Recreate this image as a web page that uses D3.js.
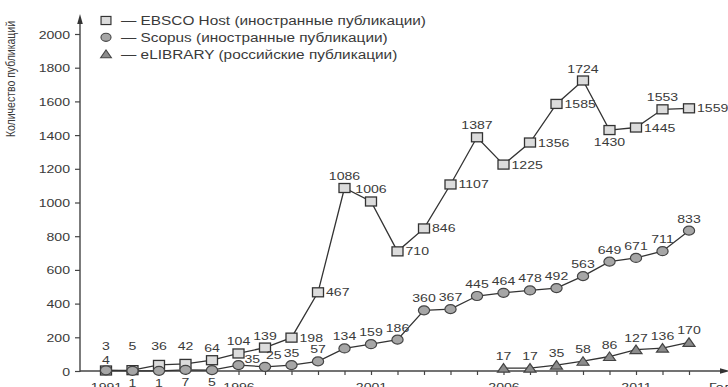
<!DOCTYPE html>
<html>
<head>
<meta charset="utf-8">
<script src="https://cdn.jsdelivr.net/npm/d3@7"></script>
<style>
  html, body { margin: 0; padding: 0; background: #fff; }
  svg { display: block; }
  text { font-family: "Liberation Sans", Arial, sans-serif; fill: #3a3a3a; }
</style>
</head>
<body>
<svg id="chart" width="728" height="387"></svg>
<script>
// Publication counts by year
const years = d3.range(1991, 2014);
const ebsco = [3, 5, 36, 42, 64, 104, 139, 198, 467, 1086, 1006, 710, 846, 1107, 1387, 1225, 1356, 1585, 1724, 1430, 1445, 1553, 1559];
const scopus = [4, 1, 1, 7, 5, 35, 25, 35, 57, 134, 159, 186, 360, 367, 445, 464, 478, 492, 563, 649, 671, 711, 833];
const elibraryYears = [2006, 2007, 2008, 2009, 2010, 2011, 2012, 2013];
const elibrary = [17, 17, 35, 58, 86, 127, 136, 170];
const yTicks = [0, 200, 400, 600, 800, 1000, 1200, 1400, 1600, 1800, 2000];
const xTickLabels = [1991, 1996, 2001, 2006, 2011];
const legendLabels = [
  "— EBSCO Host (иностранные публикации)",
  "— Scopus (иностранные публикации)",
  "— eLIBRARY (российские публикации)"
];
// where each value label sits relative to its marker:
// t = above, T = raised row above, n = just above, r = right, b = below, R = above-right, q = above, shifted right
const ebscoLabelPos = ["T","T","T","T","t","t","t","r","r","t","t","r","r","r","t","r","r","r","t","b","r","t","r"];
const scopusLabelPos = ["n","b","b","b","b","R","q","t","t","t","t","t","t","t","t","t","t","t","t","t","t","t","t"];

const svg = d3.select("#chart");
const SX = 1.28; // horizontal text stretch

const x = d3.scaleLinear().domain([1991, 2013]).range([106, 689]);
const y = d3.scaleLinear().domain([0, 2000]).range([371, 34]);
const x0 = 80;

function stretchedText(g, tx, ty, str, anchor, size) {
  return g.append("text")
    .attr("transform", `translate(${tx},${ty}) scale(${SX},1)`)
    .attr("text-anchor", anchor || "start")
    .style("font-size", (size || 11) + "px")
    .text(str);
}

// Y axis
const yAxis = d3.axisLeft(y).tickValues(yTicks).tickSize(5).tickFormat(d3.format("d"));
const gy = svg.append("g").attr("transform", `translate(${x0},0)`).call(yAxis);
gy.select(".domain").remove();
gy.selectAll(".tick line").attr("stroke", "#444").attr("stroke-width", 1.2);
gy.selectAll(".tick text").remove();
gy.selectAll(".tick").each(function(d) {
  stretchedText(d3.select(this), -10, 4, d, "end");
});
svg.append("line").attr("x1", x0).attr("x2", x0).attr("y1", y(0) + 1).attr("y2", 22)
  .attr("stroke", "#444").attr("stroke-width", 1.4);
svg.append("path").attr("d", `M${x0 - 2.8},${24} L${x0},${14} L${x0 + 2.8},${24} Z`).attr("fill", "#333");

// X axis
const xAxis = d3.axisBottom(x).tickValues(years).tickSize(4).tickFormat("");
const gx = svg.append("g").attr("transform", `translate(0,${y(0)})`).call(xAxis);
gx.select(".domain").remove();
gx.selectAll(".tick line").attr("stroke", "#444").attr("stroke-width", 1.2);
gx.selectAll(".tick").filter(d => xTickLabels.includes(d)).each(function(d) {
  stretchedText(d3.select(this), 0, 20, d, "middle");
});
svg.append("line").attr("x1", x0).attr("x2", 722).attr("y1", y(0)).attr("y2", y(0))
  .attr("stroke", "#444").attr("stroke-width", 1.4);
svg.append("path").attr("d", `M${720},${y(0) - 2.8} L${730},${y(0)} L${720},${y(0) + 2.8} Z`).attr("fill", "#333");
stretchedText(svg, 709, y(0) + 20, "Год", "start");

// Y axis title
svg.append("text")
  .attr("transform", `translate(15,79) rotate(-90) scale(1,${SX})`)
  .attr("text-anchor", "middle")
  .style("font-size", "10.5px")
  .text("Количество публикаций");

// Lines
const line = d3.line().x(d => x(d[0])).y(d => y(d[1]));
function drawLine(xs, vs) {
  svg.append("path").datum(xs.map((yr, i) => [yr, vs[i]]))
    .attr("d", line).attr("fill", "none").attr("stroke", "#333").attr("stroke-width", 1.3);
}

const markers = {
  square: g => g.append("rect").attr("x", -5.5).attr("y", -4.5).attr("width", 11).attr("height", 9)
    .attr("fill", "#dcdcdc").attr("stroke", "#333").attr("stroke-width", 1.3),
  circle: g => g.append("ellipse").attr("rx", 5.6).attr("ry", 4.5)
    .attr("fill", "#a6a6a6").attr("stroke", "#444").attr("stroke-width", 1.2),
  triangle: g => g.append("path").attr("d", "M-6,4 L0,-4.5 L6,4 Z")
    .attr("fill", "#8c8c8c").attr("stroke", "#444").attr("stroke-width", 1.2)
};

function drawMarkers(xs, vs, shape) {
  xs.forEach((yr, i) => {
    markers[shape](svg.append("g").attr("transform", `translate(${x(yr)},${y(vs[i])})`));
  });
}

function drawLabels(xs, vs, pos) {
  xs.forEach((yr, i) => {
    const px = x(yr), py = y(vs[i]);
    const p = pos ? pos[i] : "t";
    if (p === "t") stretchedText(svg, px, py - 8, vs[i], "middle");
    else if (p === "T") stretchedText(svg, px, 350, vs[i], "middle");
    else if (p === "n") stretchedText(svg, px, py - 6.5, vs[i], "middle");
    else if (p === "r") stretchedText(svg, px + 8, py + 4, vs[i], "start");
    else if (p === "b") stretchedText(svg, px, py + 16, vs[i], "middle");
    else if (p === "R") stretchedText(svg, px + 6, py - 2, vs[i], "start");
    else if (p === "q") stretchedText(svg, px + 1, py - 8, vs[i], "start");
  });
}

drawLine(years, ebsco);
drawLine(years, scopus);
drawLine(elibraryYears, elibrary);
drawMarkers(years, ebsco, "square");
drawMarkers(years, scopus, "circle");
drawMarkers(elibraryYears, elibrary, "triangle");
drawLabels(years, ebsco, ebscoLabelPos);
drawLabels(years, scopus, scopusLabelPos);
drawLabels(elibraryYears, elibrary, null);

// Legend
const legendShapes = ["square", "circle", "triangle"];
legendLabels.forEach((lab, i) => {
  const ly = 20.5 + i * 16.8;
  markers[legendShapes[i]](svg.append("g").attr("transform", `translate(106,${ly}) scale(0.9)`));
  stretchedText(svg, 121, ly + 4.5, lab, "start", 12);
});
</script>
</body>
</html>
